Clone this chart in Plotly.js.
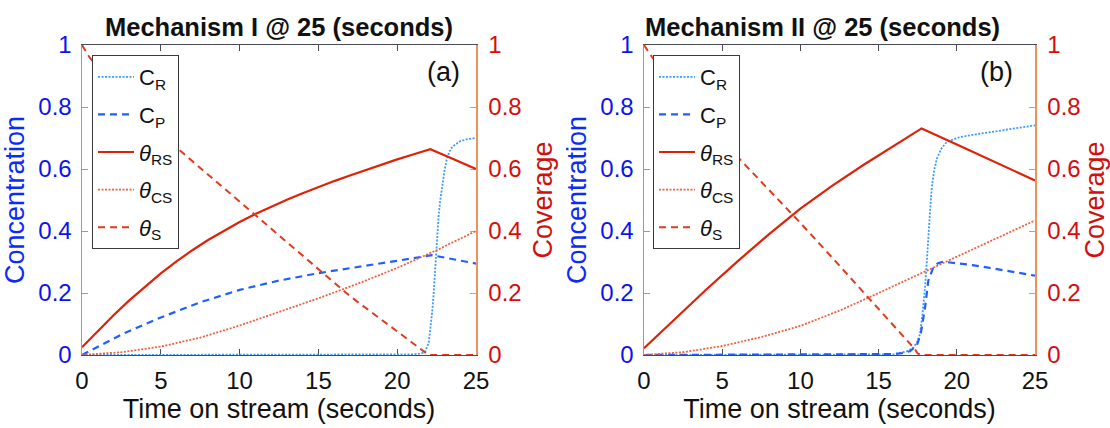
<!DOCTYPE html>
<html>
<head>
<meta charset="utf-8">
<script src="https://cdn.plot.ly/plotly-3.0.1.min.js"></script>
<style>
  html, body { margin: 0; padding: 0; background: #fff; }
  #chart { width: 1110px; height: 428px; }
</style>
</head>
<body>
<div id="chart"></div>
<script>
// ---------- Mechanism I (panel a) ----------
const tA_CR = [0, 20, 21, 21.5, 21.76, 22.0, 22.08, 22.2, 22.29, 22.38, 22.46, 22.55, 22.63, 22.72, 22.88, 23.0, 23.14, 23.3, 23.5, 24.0, 24.5, 25];
const cR_A  = [0, 0, 0.002, 0.005, 0.009, 0.04, 0.073, 0.13, 0.18, 0.25, 0.33, 0.40, 0.45, 0.495, 0.555, 0.595, 0.63, 0.655, 0.672, 0.69, 0.697, 0.70];

const tA_CP = [0, 2.5, 5, 7.5, 10, 12.5, 15, 17.5, 20, 22.2, 25];
const cP_A  = [0, 0.066, 0.121, 0.17, 0.21, 0.24, 0.264, 0.285, 0.304, 0.322, 0.295];

const tA_RS = [0, 1, 2, 3, 4, 5, 6, 7, 8, 9, 10, 11, 12, 13, 14, 15, 16, 17, 18, 19, 20, 21, 22.1, 23, 24, 25];
const thRS_A = [0.025, 0.078, 0.128, 0.176, 0.221, 0.263, 0.302, 0.338, 0.371, 0.401, 0.429, 0.455, 0.479, 0.501, 0.522, 0.542, 0.561, 0.579, 0.597, 0.614, 0.631, 0.647, 0.664, 0.644, 0.622, 0.60];

const tA_CS = [0, 2.5, 5, 7.5, 10, 12.5, 15, 17.5, 20, 22.5, 25];
const thCS_A = [0, 0.009, 0.027, 0.056, 0.095, 0.138, 0.183, 0.23, 0.281, 0.338, 0.40];

const tA_S = [0, 0.5, 1, 2, 3, 4, 5, 6, 8, 10, 12, 14, 16, 17, 18, 19, 20, 21, 22, 25];
const thS_A = [1.0, 0.958, 0.93, 0.877, 0.826, 0.776, 0.725, 0.669, 0.582, 0.495, 0.408, 0.321, 0.234, 0.19, 0.152, 0.114, 0.076, 0.038, 0, 0];

// ---------- Mechanism II (panel b) ----------
const tB_CR = [0, 15, 16, 16.37, 16.8, 17.0, 17.22, 17.45, 17.65, 17.8, 17.97, 18.08, 18.18, 18.3, 18.4, 18.55, 18.72, 19.0, 19.35, 20.2, 21, 22, 23, 24, 25];
const cR_B  = [0, 0, 0.002, 0.007, 0.012, 0.017, 0.024, 0.04, 0.068, 0.13, 0.218, 0.30, 0.39, 0.47, 0.541, 0.595, 0.633, 0.665, 0.687, 0.703, 0.71, 0.718, 0.726, 0.734, 0.741];

const tB_CP = [0, 15, 16, 16.5, 17, 17.44, 17.7, 17.97, 18.18, 18.5, 18.8, 19.14, 20, 21, 22, 23, 24, 25];
const cP_B  = [0, 0.001, 0.003, 0.006, 0.012, 0.03, 0.07, 0.153, 0.24, 0.283, 0.296, 0.301, 0.297, 0.29, 0.282, 0.274, 0.265, 0.256];

const tB_RS = [0, 2, 4, 6, 8, 10, 12, 14, 16, 17.75, 20, 22.5, 25];
const thRS_B = [0.022, 0.118, 0.212, 0.303, 0.39, 0.472, 0.545, 0.612, 0.675, 0.731, 0.679, 0.621, 0.563];

const tB_CS = [0, 2.5, 5, 7.5, 10, 12.5, 15, 17.5, 20, 22.5, 25];
const thCS_B = [0, 0.009, 0.029, 0.058, 0.094, 0.143, 0.2, 0.259, 0.318, 0.376, 0.434];

const tB_S = [0, 0.5, 1, 2, 3, 4, 5, 6, 8, 10, 12, 14, 16, 17.3, 17.5, 17.7, 25];
const thS_B = [1.0, 0.962, 0.93, 0.868, 0.808, 0.75, 0.693, 0.638, 0.532, 0.426, 0.316, 0.204, 0.092, 0.02, 0.005, 0, 0];

// ---------- labels ----------
const panelTitles = ['Mechanism I @ 25 (seconds)', 'Mechanism II @ 25 (seconds)'];
const panelTags = ['(a)', '(b)'];
const seriesNames = ['C<sub>R</sub>', 'C<sub>P</sub>', '<i>θ</i><sub>RS</sub>', '<i>θ</i><sub>CS</sub>', '<i>θ</i><sub>S</sub>'];
const xTicks = [0, 5, 10, 15, 20, 25];
const yTicks = [0, 0.2, 0.4, 0.6, 0.8, 1];
const yTickText = ['0', '0.2', '0.4', '0.6', '0.8', '1'];

const FONT = 'Liberation Sans, Arial, Helvetica, sans-serif';

const styles = [
  { color: '#3d9bff', dash: '2px,1.5px', width: 1.8 },  // C_R dotted
  { color: '#1f5fff', dash: '7px,5px',   width: 2.2 },  // C_P dashed
  { color: '#de2208', dash: 'solid',     width: 2.2 },  // theta_RS solid
  { color: '#f0603f', dash: '2px,1.5px', width: 1.8 },  // theta_CS dotted
  { color: '#e23a1c', dash: '7px,5px',   width: 2.0 }   // theta_S dashed
];

function panelTraces(series, xa, yl, yr, legendId) {
  // first two series use the concentration axis, the rest the coverage axis
  return series.map((s, i) => ({
    type: 'scatter',
    mode: 'lines',
    x: s[0],
    y: s[1],
    name: seriesNames[i],
    xaxis: xa,
    yaxis: i < 2 ? yl : yr,
    legend: legendId,
    legendgroup: legendId + '_' + i,
    line: { color: styles[i].color, dash: styles[i].dash, width: styles[i].width }
  }));
}

const traces = [].concat(
  panelTraces([[tA_CR, cR_A], [tA_CP, cP_A], [tA_RS, thRS_A], [tA_CS, thCS_A], [tA_S, thS_A]], 'x', 'y', 'y2', 'legend'),
  panelTraces([[tB_CR, cR_B], [tB_CP, cP_B], [tB_RS, thRS_B], [tB_CS, thCS_B], [tB_S, thS_B]], 'x2', 'y3', 'y4', 'legend2')
);

const W = 1110, H = 428;
const yDom = [1 - 355 / H, 1 - 45 / H];

function xAxis(domain, anchor) {
  return {
    domain: domain, anchor: anchor, range: [0, 25],
    tickvals: xTicks, ticks: 'inside', ticklen: 6, tickcolor: '#4a4a5a',
    showline: true, linecolor: '#4a4a5a', linewidth: 1, mirror: 'ticks',
    showgrid: false, zeroline: false, layer: 'below traces',
    tickfont: { family: FONT, size: 24, color: '#111' },
    ticklabelstandoff: 4,
    title: { text: 'Time on stream (seconds)', font: { family: FONT, size: 27, color: '#111' }, standoff: 4 }
  };
}
function yLeft(anchor) {
  return {
    domain: yDom, anchor: anchor, range: [0, 1], side: 'left',
    tickvals: yTicks, ticktext: yTickText, ticks: 'inside', ticklen: 6, tickcolor: '#4db0ff',
    showline: true, linecolor: '#4db0ff', linewidth: 1.5,
    showgrid: false, zeroline: false, layer: 'below traces',
    tickfont: { family: FONT, size: 24, color: '#0a14f0' },
    ticklabelstandoff: 4,
    title: { text: 'Concentration', font: { family: FONT, size: 27, color: '#0a2cf5' }, standoff: 6 }
  };
}
function yRight(anchor, over) {
  return {
    domain: yDom, anchor: anchor, overlaying: over, range: [0, 1], side: 'right',
    tickvals: yTicks, ticktext: yTickText, ticks: 'inside', ticklen: 6, tickcolor: '#f0905a',
    showline: true, linecolor: '#f0905a', linewidth: 1.5,
    showgrid: false, zeroline: false, layer: 'below traces',
    tickfont: { family: FONT, size: 24, color: '#d50d0d' },
    ticklabelstandoff: 6,
    title: { text: 'Coverage', font: { family: FONT, size: 27, color: '#d0100c' }, standoff: 12 }
  };
}
function legendBox(x) {
  return {
    x: x, y: 1 - 55 / H, xanchor: 'left', yanchor: 'top',
    bgcolor: '#ffffff', bordercolor: '#3a3a3a', borderwidth: 1,
    font: { family: FONT, size: 22, color: '#111' },
    tracegroupgap: 6, itemwidth: 36
  };
}

const layout = {
  width: W, height: H,
  margin: { l: 0, r: 0, t: 0, b: 0 },
  paper_bgcolor: '#ffffff', plot_bgcolor: '#ffffff',
  showlegend: true,
  font: { family: FONT },
  xaxis: xAxis([82 / W, 476 / W], 'y'),
  yaxis: yLeft('x'),
  yaxis2: yRight('x', 'y'),
  xaxis2: xAxis([644 / W, 1035 / W], 'y3'),
  yaxis3: yLeft('x2'),
  yaxis4: yRight('x2', 'y3'),
  legend: legendBox(92 / W),
  legend2: legendBox(653 / W),
  annotations: [
    { text: '<b>' + panelTitles[0] + '</b>', xref: 'paper', yref: 'paper', x: 279 / W, y: 1 - 27 / H,
      xanchor: 'center', yanchor: 'middle', showarrow: false, font: { family: FONT, size: 25.5, color: '#111' } },
    { text: '<b>' + panelTitles[1] + '</b>', xref: 'paper', yref: 'paper', x: 822 / W, y: 1 - 27 / H,
      xanchor: 'center', yanchor: 'middle', showarrow: false, font: { family: FONT, size: 25.5, color: '#111' } },
    { text: panelTags[0], xref: 'paper', yref: 'paper', x: 443 / W, y: 1 - 72 / H,
      xanchor: 'center', yanchor: 'middle', showarrow: false, font: { family: FONT, size: 27, color: '#111' } },
    { text: panelTags[1], xref: 'paper', yref: 'paper', x: 996 / W, y: 1 - 72 / H,
      xanchor: 'center', yanchor: 'middle', showarrow: false, font: { family: FONT, size: 27, color: '#111' } }
  ]
};

Plotly.newPlot('chart', traces, layout, { staticPlot: true, displayModeBar: false });
</script>
</body>
</html>
